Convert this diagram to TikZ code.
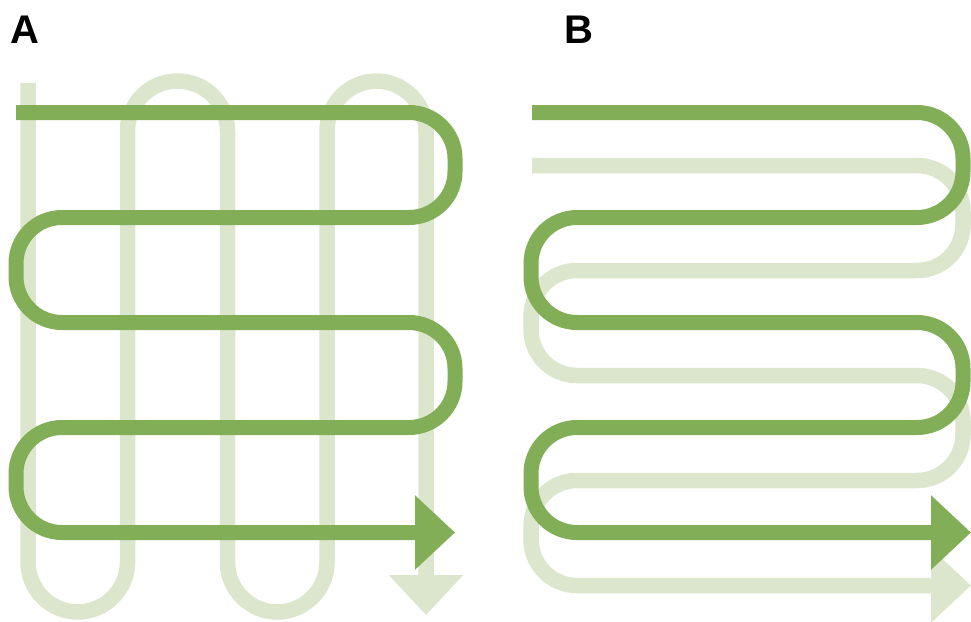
\documentclass[tikz,border=0pt]{standalone}
\usepackage{fontspec}
\setmainfont{Liberation Sans}
\usepackage{tikz}
\usetikzlibrary{arrows.meta}
\definecolor{leafgreen}{HTML}{82AE58}
\definecolor{palegreen}{HTML}{DCE6CD}

\begin{document}
\begin{tikzpicture}[x=1pt,y=-1pt,
    darkpath/.style={draw=leafgreen,line width=15pt,rounded corners=46pt},
    lightpath/.style={draw=palegreen,line width=15.5pt,rounded corners=50pt},
    bigtip/.style={-{Triangle[length=40pt,width=72pt]}},
    panellabel/.style={font=\fontsize{40}{40}\selectfont\bfseries,anchor=base,inner sep=0pt}]
  \useasboundingbox (0,0) rectangle (971,621);

  % --- Panel A (rows over columns)
  \begin{scope}
    \node[panellabel] (labelA) at (25,43) {A};

    % columns, drawn first
    \draw[lightpath,bigtip] (28,83) -- (28,612) -- (127.5,612) -- (127.5,81)
      -- (227.5,81) -- (227.5,612) -- (327,612) -- (327,81) -- (426,81) -- (426,615);

    % rows
    \draw[darkpath,bigtip] (16,112.5) -- (455,112.5) -- (455,217.5) -- (16,217.5)
      -- (16,322.5) -- (455,322.5) -- (455,427.5) -- (16,427.5) -- (16,532.5) -- (455,532.5);
  \end{scope}

  % --- Panel B (two shifted rows)
  \begin{scope}
    \node[panellabel] (labelB) at (579,43) {B};

    % shifted rows, behind
    \draw[lightpath,rounded corners=46pt,bigtip] (532,165.5) -- (963,165.5) -- (963,270.5) -- (531,270.5)
      -- (531,375.5) -- (963,375.5) -- (963,480.5) -- (531,480.5) -- (531,585.5) -- (971,585.5);

    \draw[darkpath,bigtip] (532,112.5) -- (963,112.5) -- (963,217.5) -- (531,217.5)
      -- (531,322.5) -- (963,322.5) -- (963,427.5) -- (531,427.5) -- (531,532.5) -- (971,532.5);
  \end{scope}
\end{tikzpicture}
\end{document}
